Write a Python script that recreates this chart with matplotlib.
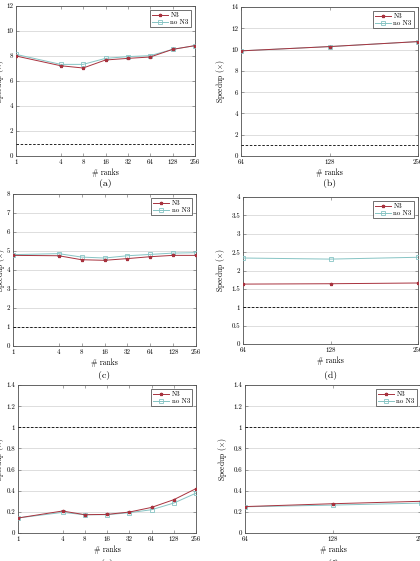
import matplotlib.pyplot as plt

plt.rcParams['font.family'] = ['cmr10', 'DejaVu Serif']
plt.rcParams['mathtext.fontset'] = 'cm'
plt.rcParams['axes.formatter.use_mathtext'] = True

# data
ranks_all = [1, 4, 8, 16, 32, 64, 128, 256]
ranks_big = [64, 128, 256]

a_n3 = [8.0, 7.22, 7.04, 7.68, 7.81, 7.92, 8.53, 8.83]
a_non3 = [8.13, 7.33, 7.33, 7.81, 7.95, 8.03, 8.53, 8.83]
b_n3 = [9.88, 10.28, 10.75]
b_non3 = [9.88, 10.28, 10.75]
c_n3 = [4.77, 4.75, 4.54, 4.51, 4.60, 4.70, 4.77, 4.77]
c_non3 = [4.81, 4.86, 4.68, 4.63, 4.75, 4.82, 4.89, 4.91]
d_n3 = [1.63, 1.64, 1.66]
d_non3 = [2.34, 2.31, 2.36]
e_n3 = [0.142, 0.208, 0.173, 0.176, 0.198, 0.242, 0.315, 0.42]
e_non3 = [0.142, 0.195, 0.173, 0.173, 0.192, 0.22, 0.283, 0.377]
f_n3 = [0.25, 0.277, 0.30]
f_non3 = [0.248, 0.264, 0.283]

W, H = 420, 561
fig = plt.figure(figsize=(W / 100, H / 100), dpi=100)

RED = '#a8323e'
TEAL = '#86c4c4'


def add_panel(box, x, n3, non3, ymax, ystep, yticklabels, caption, cap_y, ypad):
    left, right, top, bottom = box
    ax = fig.add_axes([left / W, 1 - bottom / H, (right - left) / W, (bottom - top) / H])
    ax.set_xscale('log', base=2)
    ax.plot(x, n3, color=RED, lw=0.7, marker='*', ms=2.3, label='N3', zorder=4)
    ax.plot(x, non3, color=TEAL, lw=0.7, marker='s', ms=2.6, mfc='none', mew=0.6,
            label='no N3', zorder=3)
    ax.axhline(1, color='black', lw=0.6, ls=(0, (3, 2)), zorder=2.6)
    ax.set_xlim(x[0], x[-1])
    ax.set_ylim(0, ymax)
    ax.set_xticks(x)
    ax.set_xticklabels([str(v) for v in x])
    ax.minorticks_off()
    yt = [i * ystep for i in range(len(yticklabels))]
    ax.set_yticks(yt)
    ax.set_yticklabels(yticklabels)
    ax.grid(axis='y', color='#d8d8d8', lw=0.6)
    ax.tick_params(direction='in', length=2, width=0.4, labelsize=5, pad=2,
                   top=True, right=True, color='#606060')
    for s in ax.spines.values():
        s.set_color('#505050')
        s.set_linewidth(0.6)
    ax.set_xlabel('# ranks', fontsize=5.5, labelpad=3)
    ax.set_ylabel(r'Speedup ($\times$)', fontsize=5.5, labelpad=ypad)
    leg = ax.legend(loc='upper right', fontsize=5, frameon=True, fancybox=False,
                    handlelength=2.2, borderpad=0.3, labelspacing=0.2,
                    handletextpad=0.4, borderaxespad=0.6)
    leg.get_frame().set_edgecolor('#303030')
    leg.get_frame().set_linewidth(0.6)
    cx = left + (right - left) / 2
    fig.text(cx / W, 1 - cap_y / H, caption, fontsize=7, ha='center', va='center')
    return ax


def labels(vals):
    return ['%g' % v for v in vals]


add_panel((16, 195, 6, 156), ranks_all, a_n3, a_non3, 12, 2,
          labels([0, 2, 4, 6, 8, 10, 12]), '(a)', 184, 0.5)
add_panel((241, 418, 7, 156), ranks_big, b_n3, b_non3, 14, 2,
          labels([0, 2, 4, 6, 8, 10, 12, 14]), '(b)', 183, 3)
add_panel((13, 196, 194, 346), ranks_all, c_n3, c_non3, 8, 1,
          labels([0, 1, 2, 3, 4, 5, 6, 7, 8]), '(c)', 376, 0)
add_panel((243, 418, 197, 344), ranks_big, d_n3, d_non3, 4, 0.5,
          labels([0, 0.5, 1, 1.5, 2, 2.5, 3, 3.5, 4]), '(d)', 376, 3)
add_panel((18, 196, 385, 533), ranks_all, e_n3, e_non3, 1.4, 0.2,
          labels([0, 0.2, 0.4, 0.6, 0.8, 1, 1.2, 1.4]), '(e)', 563, 0.5)
add_panel((245, 421, 385, 533), ranks_big, f_n3, f_non3, 1.4, 0.2,
          labels([0, 0.2, 0.4, 0.6, 0.8, 1, 1.2, 1.4]), '(f)', 563, 3)

fig.savefig('out.png', dpi=100)
